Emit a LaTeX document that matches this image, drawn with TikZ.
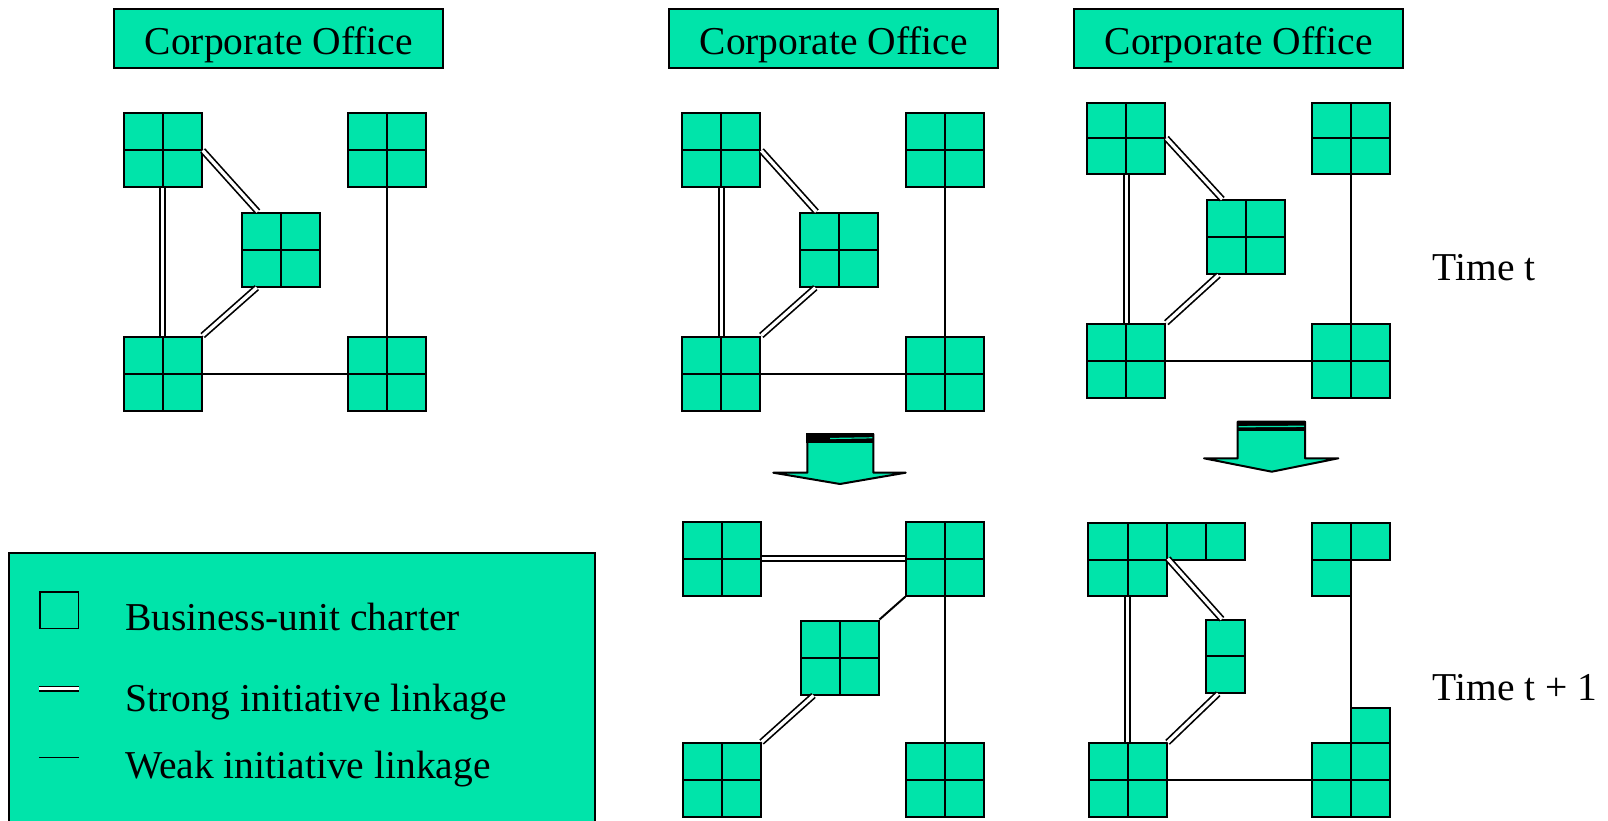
\documentclass[tikz,border=0pt]{standalone}
\usepackage{fontspec}
\setmainfont{Liberation Serif}
\usetikzlibrary{calc}
\definecolor{ug}{HTML}{00E4AA}
\begin{document}
\begin{tikzpicture}[x=1pt,y=-1pt,
  unit/.style={draw, fill=ug, line width=2pt, minimum width=78pt, minimum height=74pt, inner sep=0pt,
    path picture={\draw[line width=2pt] (path picture bounding box.north) -- (path picture bounding box.south)
      (path picture bounding box.west) -- (path picture bounding box.east);}},
  cell/.style={draw, fill=ug, line width=2pt, minimum width=39.3pt, minimum height=36.3pt, inner sep=0pt},
  corp/.style={draw, fill=ug, line width=2pt, minimum width=329pt, minimum height=58.5pt, inner sep=0pt,
    text height=34pt, text depth=1pt, font=\fontsize{39.5}{46}\selectfont},
  strong/.style={line width=1.7pt, double=white, double distance=3.3pt},
  weak/.style={line width=2pt},
  lbl/.style={anchor=base west, inner sep=0pt, font=\fontsize{39.5}{46}\selectfont},
  blockarrow/.style={line width=2pt, fill=ug, line join=round},
]
\useasboundingbox (0,0) rectangle (1608,821);

% ---------- corporate offices ----------
\node[corp] (corp1) at (278.8,38.5) {Corporate Office};
\node[corp] (corp2) at (833.7,38.5) {Corporate Office};
\node[corp] (corp3) at (1238.7,38.5) {Corporate Office};

% ---------- panel 1 (time t) ----------
\node[unit] (p1tl) at (162.7,150.5) {};
\node[unit] (p1c)  at (280.8,249.7) {};
\node[unit] (p1tr) at (386.7,150.5) {};
\node[unit] (p1bl) at (162.7,373.5) {};
\node[unit] (p1br) at (386.7,373.5) {};
\draw[strong] (p1tl.south) -- (p1bl.north);
\draw[strong] (p1tl.east) -- ($(p1c.north west)+(17,0)$);
\draw[strong] ($(p1c.south west)+(16,0)$) -- (p1bl.north east);
\draw[weak] (p1tr.south) -- (p1br.north);
\draw[weak] (p1bl.east) -- (p1br.west);

% ---------- panel 2 (time t) ----------
\node[unit] (p2tl) at (721.3,150.5) {};
\node[unit] (p2c)  at (839.3,249.7) {};
\node[unit] (p2tr) at (945.3,150.5) {};
\node[unit] (p2bl) at (721.3,373.5) {};
\node[unit] (p2br) at (945.3,373.5) {};
\draw[strong] (p2tl.south) -- (p2bl.north);
\draw[strong] (p2tl.east) -- ($(p2c.north west)+(17,0)$);
\draw[strong] ($(p2c.south west)+(16,0)$) -- (p2bl.north east);
\draw[weak] (p2tr.south) -- (p2br.north);
\draw[weak] (p2bl.east) -- (p2br.west);

% ---------- panel 3 (time t) ----------
\node[unit, minimum height=71pt] (p3tl) at (1126.3,138.2) {};
\node[unit] (p3c)  at (1245.5,237.2) {};
\node[unit, minimum height=71pt] (p3tr) at (1351.3,138.2) {};
\node[unit] (p3bl) at (1126.3,360.7) {};
\node[unit] (p3br) at (1351.3,360.7) {};
\draw[strong] (p3tl.south) -- (p3bl.north);
\draw[strong] (p3tl.east) -- ($(p3c.north west)+(16.7,0)$);
\draw[strong] ($(p3c.south west)+(13,0)$) -- (p3bl.north east);
\draw[weak] (p3tr.south) -- (p3br.north);
\draw[weak] (p3bl.east) -- (p3br.west);

% ---------- arrows ----------
\draw[blockarrow] (807.3,434) -- (873.3,434) -- (873.3,472.7) -- (905.7,472.7) -- (840,484)
  -- (773.3,472.7) -- (807.3,472.7) -- cycle;
\fill (806.3,433) rectangle (874.3,442.5);
\draw[ug, line width=1.2pt] (830,438.5) -- (872.3,437.8);
\draw[blockarrow] (1237.7,421.7) -- (1305,421.7) -- (1305,458.3) -- (1338.3,458.3) -- (1271.7,471.7)
  -- (1204,458.3) -- (1237.7,458.3) -- cycle;
\fill (1236.7,420.7) rectangle (1306,431);
\draw[ug, line width=1.3pt] (1238.7,426.7) -- (1304,426.3);

% ---------- panel 2 (time t+1) ----------
\node[unit] (q2tl) at (721.6,558.7) {};
\node[unit] (q2tr) at (945.3,558.7) {};
\node[unit] (q2c)  at (839.5,657.5) {};
\node[unit] (q2bl) at (721.6,780) {};
\node[unit] (q2br) at (945.3,780) {};
\draw[strong] (q2tl.east) -- (q2tr.west);
\draw[weak] (q2tr.south west) -- (q2c.north east);
\draw[strong] ($(q2c.south west)+(14,0)$) -- (q2bl.north east);
\draw[weak] (q2tr.south) -- (q2br.north);

% ---------- panel 3 (time t+1) ----------
\node[cell] (t3a) at (1107.9,541.5) {};
\node[cell] (t3b) at (1147.2,541.5) {};
\node[cell] (t3c) at (1186.5,541.5) {};
\node[cell] (t3d) at (1225.8,541.5) {};
\node[cell] (t3e) at (1107.9,577.8) {};
\node[cell] (t3f) at (1147.2,577.8) {};
\node[cell] (c3a) at (1225.8,638.3) {};
\node[cell] (c3b) at (1225.8,674.6) {};
\node[cell, minimum width=39pt] (r3a) at (1331.8,541.5) {};
\node[cell, minimum width=39pt] (r3b) at (1370.8,541.5) {};
\node[cell, minimum width=39pt] (r3c) at (1331.8,577.8) {};
\node[cell, minimum width=39pt, minimum height=35pt] (x3) at (1370.8,725.8) {};
\node[unit] (q3bl) at (1127.6,780.3) {};
\node[unit] (q3br) at (1351.3,780.3) {};
\draw[strong] (q3bl.north) -- (q3bl.north |- t3f.south);
\draw[strong] (t3f.north east) -- ($(c3a.north west)+(16.7,0)$);
\draw[strong] ($(c3b.south west)+(13,0)$) -- (q3bl.north east);
\draw[weak] (q3br.north) -- (q3br.north |- r3c.south);
\draw[weak] (q3bl.east) -- (q3br.west);

% ---------- time labels ----------
\node[lbl] (tt) at (1432.7,280) {Time t};
\node[lbl] (tt1) at (1432.7,700) {Time t + 1};

% ---------- legend ----------
\fill[ug] (9,553) rectangle (595,823);
\draw[line width=2pt] (9,823) -- (9,553) -- (595,553) -- (595,823);
\node[draw, line width=1.5pt, minimum width=38.7pt, minimum height=36.5pt, inner sep=0pt] (lsq) at (59.2,610) {};
\coordinate (ls1) at (39.3,688.8);
\coordinate (ls2) at (79.3,688.8);
\coordinate (lw1) at (39.3,757.7);
\coordinate (lw2) at (79.3,757.7);
\draw[strong, line width=1.5pt, double distance=2.8pt] (ls1) -- (ls2);
\draw[line width=1.5pt] (lw1) -- (lw2);
\node[lbl] (l1) at (125,630.7) {Business-unit charter};
\node[lbl] (l2) at (125,711.7) {Strong initiative linkage};
\node[lbl] (l3) at (125,778.3) {Weak initiative linkage};
\end{tikzpicture}
\end{document}
